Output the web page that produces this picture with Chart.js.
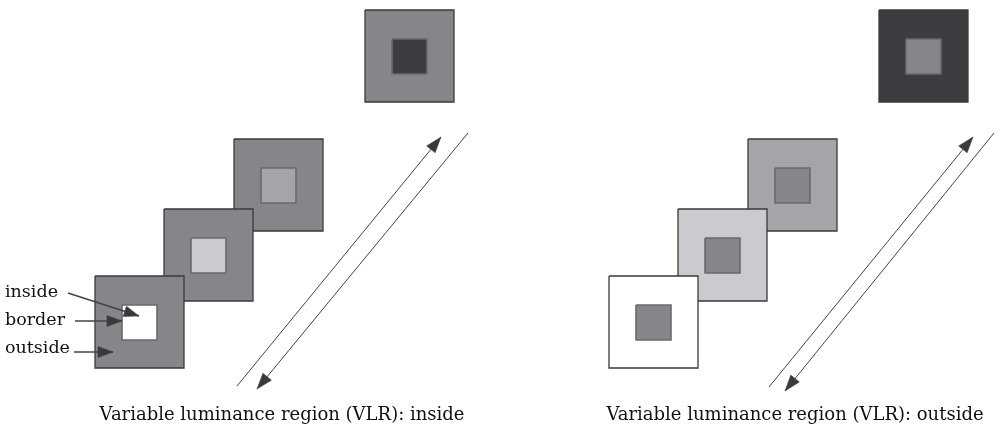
<!DOCTYPE html>
<html>
<head>
<meta charset="utf-8">
<script src="https://cdn.jsdelivr.net/npm/chart.js@4.4.0/dist/chart.umd.min.js"></script>
<style>
  html, body { margin: 0; padding: 0; background: #fff; }
  #wrap { width: 1001px; height: 432px; }
</style>
</head>
<body>
<div id="wrap"><canvas id="vlrChart"></canvas></div>
<script>
// diagram units = pixels, y grows downwards. index 0 = bottom-left square
var squareLeftA = [95, 164, 234, 365];
var squareLeftB = [609, 678, 748, 879];
var squareTop = [276, 209, 139, 10];
var squareSize = [89, 92];
var innerOffset = [27, 29];
var innerSize = [35, 35];

// grey level of the variable region (VLR), and the fixed grey
var vlrGrey = [255, 203, 165, 61];
var fixedGrey = 134;

// direction arrows: [x start, y start, x tip, y tip]
var arrowsA = [[237, 386, 441, 137], [468, 133, 257, 389]];
var arrowsB = [[769, 387, 973, 137], [994, 133, 785, 391]];

var regionLabels = ['inside', 'border', 'outside'];
var regionLabelY = [297, 325, 353];
var regionArrows = [[68, 293, 139, 316], [75, 321, 122, 321], [74, 352, 113, 352]];

var captions = ['Variable luminance region (VLR): inside', 'Variable luminance region (VLR): outside'];
var captionX = [282, 795];
var captionY = 420;

function grey(v) {
    return 'rgb(' + v + ',' + v + ',' + Math.min(255, v + 4) + ')';
}

function rect(x, y, w, h) {
    return [{x: x, y: y}, {x: x + w, y: y}, {x: x + w, y: y + h}, {x: x, y: y + h}, {x: x, y: y}];
}

function head(a, len, halfW) {
    var dx = a[2] - a[0], dy = a[3] - a[1];
    var d = Math.sqrt(dx * dx + dy * dy);
    var ux = dx / d, uy = dy / d;
    var bx = a[2] - ux * len, by = a[3] - uy * len;
    return [{x: a[2], y: a[3]}, {x: bx - uy * halfW, y: by + ux * halfW},
        {x: bx + uy * halfW, y: by - ux * halfW}, {x: a[2], y: a[3]}];
}

var datasets = [];

function addSquares(lefts, outerGrey, innerGrey) {
    for (var i = 0; i < lefts.length; i++) {
        datasets.push({
            data: rect(lefts[i], squareTop[i], squareSize[0], squareSize[1]),
            fill: 'shape',
            backgroundColor: grey(outerGrey[i]),
            borderColor: '#3a3a3c',
            borderWidth: 1.3,
            order: 2 * i + 1
        });
        datasets.push({
            data: rect(lefts[i] + innerOffset[0], squareTop[i] + innerOffset[1], innerSize[0], innerSize[1]),
            fill: 'shape',
            backgroundColor: grey(innerGrey[i]),
            borderColor: '#6a6a6e',
            borderWidth: 1.6,
            order: 2 * i
        });
    }
}

function addArrow(a, width, len, halfW) {
    datasets.push({
        data: [{x: a[0], y: a[1]}, {x: a[2], y: a[3]}],
        fill: false,
        borderColor: '#444444',
        borderWidth: width,
        order: -1
    });
    datasets.push({
        data: head(a, len, halfW),
        fill: 'shape',
        backgroundColor: '#3a3a3a',
        borderColor: '#3a3a3a',
        borderWidth: 0.5,
        order: -2
    });
}

var fixedArr = vlrGrey.map(function () { return fixedGrey; });
addSquares(squareLeftA, fixedArr, vlrGrey);
addSquares(squareLeftB, vlrGrey, fixedArr);
arrowsA.concat(arrowsB).forEach(function (a) { addArrow(a, 1, 16, 5.5); });
regionArrows.forEach(function (a) { addArrow(a, 1.6, 15, 5.5); });

var textPlugin = {
    id: 'vlrText',
    afterDatasetsDraw: function (chart) {
        var ctx = chart.ctx, sx = chart.scales.x, sy = chart.scales.y;
        ctx.save();
        ctx.fillStyle = '#111111';
        ctx.textBaseline = 'alphabetic';
        ctx.textAlign = 'left';
        ctx.font = '17.5px "DejaVu Serif"';
        regionLabels.forEach(function (t, i) {
            ctx.fillText(t, sx.getPixelForValue(5), sy.getPixelForValue(regionLabelY[i]));
        });
        ctx.textAlign = 'center';
        ctx.font = '18px "DejaVu Serif"';
        captions.forEach(function (t, i) {
            ctx.fillText(t, sx.getPixelForValue(captionX[i]), sy.getPixelForValue(captionY));
        });
        ctx.restore();
    }
};

var ctx = document.getElementById('vlrChart').getContext('2d');
var chart = new Chart(ctx, {
    type: 'line',
    data: { datasets: datasets },
    options: {
        responsive: true,
        maintainAspectRatio: false,
        animation: false,
        layout: { padding: 0 },
        elements: {
            point: { radius: 0, hoverRadius: 0 },
            line: { tension: 0, borderJoinStyle: 'miter' }
        },
        plugins: {
            legend: { display: false },
            tooltip: { enabled: false }
        },
        scales: {
            x: { type: 'linear', min: 0, max: 1001, display: false },
            y: { type: 'linear', min: 0, max: 432, reverse: true, display: false }
        }
    },
    plugins: [textPlugin]
});
</script>
</body>
</html>
